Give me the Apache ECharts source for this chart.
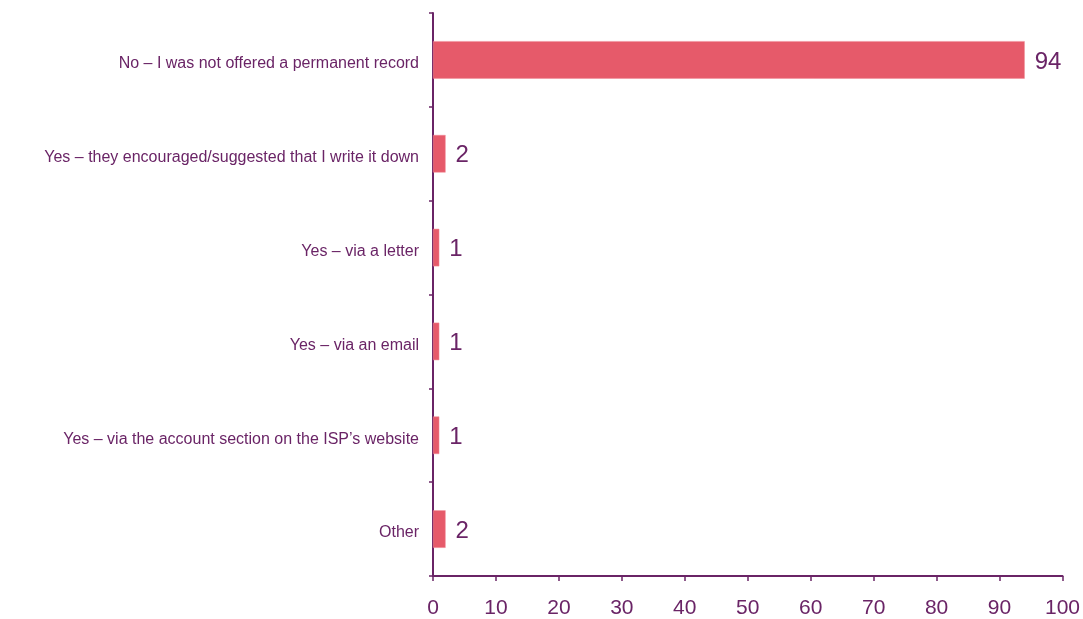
<!DOCTYPE html>
<html>
<head>
<meta charset="utf-8">
<script src="https://cdn.jsdelivr.net/npm/echarts@6/dist/echarts.min.js"></script>
<style>
  html, body { margin: 0; padding: 0; background: #ffffff; }
  #chart { width: 1083px; height: 619px; }
</style>
</head>
<body>
<div id="chart"></div>
<script>
// Responses, listed top to bottom
const categories = [
  'No \u2013 I was not offered a permanent record',
  'Yes \u2013 they encouraged/suggested that I write it down',
  'Yes \u2013 via a letter',
  'Yes \u2013 via an email',
  'Yes \u2013 via the account section on the ISP\u2019s website',
  'Other'
];
const values = [94, 2, 1, 1, 1, 2];
const xTicks = [0, 10, 20, 30, 40, 50, 60, 70, 80, 90, 100];

const purple = '#6a2466';
const barColor = '#e65a6a';
const font = 'Liberation Sans, Arial, sans-serif';

const chart = echarts.init(document.getElementById('chart'));
chart.setOption({
  animation: false,
  grid: { left: 433, right: 18, top: 13, bottom: 40, containLabel: false },
  xAxis: {
    type: 'value',
    min: xTicks[0],
    max: xTicks[xTicks.length - 1],
    interval: 10,
    splitLine: { show: false },
    axisLine: { show: true, lineStyle: { color: purple, width: 2 } },
    axisTick: { show: true, length: 5, lineStyle: { color: purple, width: 1.5 } },
    axisLabel: { color: purple, fontSize: 21, fontFamily: font, margin: 22 }
  },
  yAxis: {
    type: 'category',
    inverse: true,
    data: categories,
    axisLine: { show: true, lineStyle: { color: purple, width: 2 } },
    axisTick: { show: true, length: 4, lineStyle: { color: purple, width: 1.5 } },
    axisLabel: {
      margin: 14,
      formatter: (v) => '{c|' + v + '}',
      rich: {
        c: { color: purple, fontSize: 16, fontFamily: font, padding: [8, 0, 0, 0] }
      }
    }
  },
  series: [{
    type: 'bar',
    data: values,
    barWidth: '40%',
    itemStyle: { color: barColor, borderColor: '#f08a96', borderWidth: 0.5 },
    label: {
      show: true,
      position: 'right',
      distance: 10,
      offset: [0, 2],
      color: purple,
      fontSize: 24,
      fontFamily: font
    }
  }]
});
</script>
</body>
</html>
